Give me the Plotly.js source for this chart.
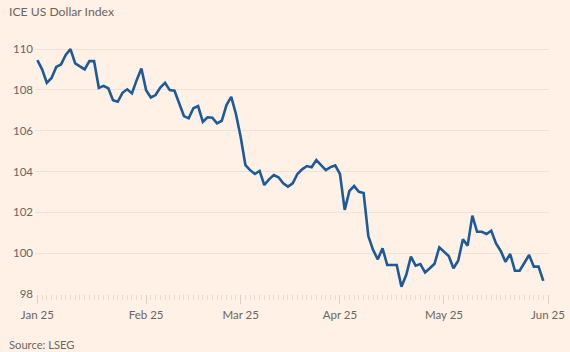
<!DOCTYPE html>
<html>
<head>
<meta charset="utf-8">
<script src="https://cdn.plot.ly/plotly-3.0.1.min.js"></script>
<style>html,body{margin:0;padding:0;background:#FFF1E5;}#chart{width:570px;height:352px;}</style>
</head>
<body>
<div id="chart"></div>
<script>
// Trading-day dates (weekdays, Jan 1 – May 30 2025)
const dates = [
 "2025-01-01","2025-01-02","2025-01-03","2025-01-06","2025-01-07","2025-01-08","2025-01-09","2025-01-10",
 "2025-01-13","2025-01-14","2025-01-15","2025-01-16","2025-01-17","2025-01-20","2025-01-21","2025-01-22",
 "2025-01-23","2025-01-24","2025-01-27","2025-01-28","2025-01-29","2025-01-30","2025-01-31",
 "2025-02-03","2025-02-04","2025-02-05","2025-02-06","2025-02-07","2025-02-10","2025-02-11","2025-02-12",
 "2025-02-13","2025-02-14","2025-02-17","2025-02-18","2025-02-19","2025-02-20","2025-02-21","2025-02-24",
 "2025-02-25","2025-02-26","2025-02-27","2025-02-28",
 "2025-03-03","2025-03-04","2025-03-05","2025-03-06","2025-03-07","2025-03-10","2025-03-11","2025-03-12",
 "2025-03-13","2025-03-14","2025-03-17","2025-03-18","2025-03-19","2025-03-20","2025-03-21","2025-03-24",
 "2025-03-25","2025-03-26","2025-03-27","2025-03-28","2025-03-31",
 "2025-04-01","2025-04-02","2025-04-03","2025-04-04","2025-04-07","2025-04-08","2025-04-09","2025-04-10",
 "2025-04-11","2025-04-14","2025-04-15","2025-04-16","2025-04-17","2025-04-18","2025-04-21","2025-04-22",
 "2025-04-23","2025-04-24","2025-04-25","2025-04-28","2025-04-29","2025-04-30",
 "2025-05-01","2025-05-02","2025-05-05","2025-05-06","2025-05-07","2025-05-08","2025-05-09","2025-05-12",
 "2025-05-13","2025-05-14","2025-05-15","2025-05-16","2025-05-19","2025-05-20","2025-05-21","2025-05-22",
 "2025-05-23","2025-05-26","2025-05-27","2025-05-28","2025-05-29","2025-05-30"
];
// ICE US Dollar Index values
const dxy = [
 109.46,109.01,108.35,108.59,109.13,109.25,109.71,110.00,
 109.30,109.17,109.01,109.41,109.41,108.10,108.20,108.08,
 107.50,107.42,107.86,108.03,107.83,108.48,109.05,
 107.99,107.63,107.75,108.12,108.35,107.99,107.96,107.34,
 106.72,106.61,107.10,107.21,106.44,106.66,106.64,106.36,
 106.49,107.26,107.66,106.82,
 105.69,104.32,104.07,103.88,104.03,103.34,103.62,103.83,
 103.72,103.42,103.26,103.42,103.88,104.11,104.27,104.21,
 104.56,104.32,104.07,104.22,104.30,
 103.88,102.12,103.05,103.29,103.01,102.95,100.84,100.16,
 99.70,100.24,99.42,99.42,99.42,98.36,98.93,99.83,
 99.39,99.47,99.06,99.26,99.48,100.29,
 100.07,99.86,99.26,99.63,100.68,100.37,101.84,101.05,
 101.05,100.94,101.10,100.48,100.11,99.58,99.96,99.14,
 99.14,99.55,99.91,99.34,99.34,98.64
];
const yTicks = [98,100,102,104,106,108,110];
const chartTitle = "ICE US Dollar Index";
const sourceText = "Source: LSEG";

const textColor = "#6B6560";
const trace = {
  x: dates, y: dxy, type: "scatter", mode: "lines",
  line: {color: "#1C5A9A", width: 2.6, shape: "linear"},
  hoverinfo: "skip"
};
const plotW = 514, plotH = 251;
const layout = {
  width: 570, height: 352,
  paper_bgcolor: "#FFF1E5", plot_bgcolor: "#FFF1E5",
  margin: {l: 35, r: 21, t: 43, b: 58},
  showlegend: false,
  font: {family: "Lato, 'Open Sans', sans-serif", color: textColor, size: 11.5},
  xaxis: {
    type: "date",
    range: ["2024-12-31 12:00", "2025-06-02 05:00"],
    rangebreaks: [{bounds: ["sat", "mon"]}],
    tick0: "2025-01-01", dtick: "M1", tickformat: "%b %y",
    ticks: "outside", ticklen: 9, tickwidth: 1, tickcolor: "#DCCFC4",
    minor: {dtick: 86400000, ticks: "outside", ticklen: 5, tickwidth: 1, tickcolor: "#E8DBD0", showgrid: false},
    showgrid: false, zeroline: false, showline: false,
    ticklabelstandoff: 1,
    tickfont: {size: 11.5, color: textColor}
  },
  yaxis: {
    range: [98, 110.3],
    tickvals: yTicks, ticktext: yTicks.map(String),
    showgrid: true, gridcolor: "#EFE2D6", gridwidth: 1,
    zeroline: false, showline: false, ticks: "",
    ticklabelstandoff: 1,
    tickfont: {size: 11.5, color: textColor}
  },
  annotations: [
    {text: chartTitle, xref: "paper", yref: "paper", x: -28/plotW, y: 1 + 32/plotH,
     xanchor: "left", yanchor: "middle", showarrow: false,
     font: {size: 12.2, color: textColor}},
    {text: sourceText, xref: "paper", yref: "paper", x: -28/plotW, y: -50/plotH,
     xanchor: "left", yanchor: "middle", showarrow: false,
     font: {size: 11.2, color: textColor}}
  ]
};
Plotly.newPlot("chart", [trace], layout, {displayModeBar: false, staticPlot: true});
</script>
</body>
</html>
